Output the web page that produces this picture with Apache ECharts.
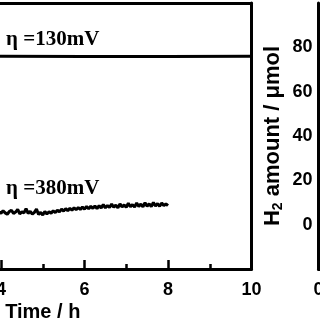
<!DOCTYPE html>
<html>
<head>
<meta charset="utf-8">
<script src="https://cdn.jsdelivr.net/npm/echarts@6/dist/echarts.min.js"></script>
<style>html,body{margin:0;padding:0;background:#fff;}#c{width:320px;height:320px;}</style>
</head>
<body>
<div id="c"></div>
<script>
// Left panel: chronoamperometry-like traces
const xTicks = [0, 2, 4, 6, 8, 10];
const time130 = [0, 2, 4, 6, 8, 10];
const val130 = [8.0, 8.0, 8.0, 7.99, 7.99, 8.0];
const time380 = [3.80,3.85,3.90,3.95,4.00,4.05,4.10,4.15,4.20,4.25,4.30,4.35,4.40,4.45,4.50,4.55,4.60,4.65,4.70,4.75,4.80,4.85,4.90,4.95,5.00,5.05,5.10,5.15,5.20,5.25,5.30,5.35,5.40,5.45,5.50,5.55,5.60,5.65,5.70,5.75,5.80,5.85,5.90,5.95,6.00,6.05,6.10,6.15,6.20,6.25,6.30,6.35,6.40,6.45,6.50,6.55,6.60,6.65,6.70,6.75,6.80,6.85,6.90,6.95,7.00,7.05,7.10,7.15,7.20,7.25,7.30,7.35,7.40,7.45,7.50,7.55,7.60,7.65,7.70,7.75,7.80,7.85,7.90,7.95,8.00];
const val380 = [2.12,2.18,2.08,2.15,2.10,2.19,2.11,2.06,2.16,2.21,2.09,2.14,2.24,2.07,2.15,2.11,2.27,2.09,2.17,2.06,2.13,2.25,2.05,2.13,2.03,2.16,2.07,2.15,2.10,2.19,2.12,2.21,2.15,2.25,2.18,2.27,2.19,2.28,2.21,2.30,2.23,2.31,2.24,2.33,2.25,2.35,2.26,2.36,2.28,2.37,2.27,2.38,2.29,2.42,2.30,2.39,2.31,2.44,2.32,2.40,2.30,2.45,2.33,2.41,2.32,2.47,2.34,2.42,2.33,2.48,2.35,2.44,2.34,2.49,2.36,2.45,2.35,2.50,2.37,2.46,2.36,2.48,2.38,2.45,2.38];
const label130 = 'η =130mV';
const label380 = 'η =380mV';
// Right panel: H2 amount axis
const h2Min = -20, h2Max = 100, h2Step = 20;

const chart = echarts.init(document.getElementById('c'), null, {renderer: 'canvas'});
const tickFont = {fontFamily: 'Liberation Sans, Arial, sans-serif', fontWeight: 'bold', fontSize: 18, color: '#000'};
const lineStyle = {color: '#000', width: 3};

chart.setOption({
  animation: false,
  backgroundColor: '#fff',
  grid: [
    {left: -166, top: 3, width: 417.5, height: 266, containLabel: false, outerBoundsMode: 'none'},
    {left: 318.5, top: 3, width: 400, height: 266, containLabel: false, outerBoundsMode: 'none'}
  ],
  xAxis: [
    {
      gridIndex: 0, type: 'value', min: 0, max: 10, interval: 2, position: 'bottom',
      axisLine: {show: true, lineStyle: lineStyle},
      axisTick: {show: true, inside: true, length: 9, lineStyle: {color: '#000', width: 2.5}},
      minorTick: {show: true, splitNumber: 2, length: 5, lineStyle: {color: '#000', width: 2.5}},
      axisLabel: Object.assign({margin: 12}, tickFont),
      splitLine: {show: false},
      name: 'Time / h', nameLocation: 'middle', nameGap: 33, nameMoveOverlap: false,
      nameTextStyle: {fontFamily: 'Liberation Sans, Arial, sans-serif', fontWeight: 'bold', fontSize: 20, color: '#000'}
    },
    {
      gridIndex: 0, type: 'value', min: 0, max: 10, position: 'top',
      axisLine: {show: true, onZero: false, lineStyle: lineStyle},
      axisTick: {show: false}, axisLabel: {show: false}, splitLine: {show: false}
    },
    {
      gridIndex: 1, type: 'value', min: 0, max: 10, interval: 2, position: 'bottom',
      axisLine: {show: true, onZero: false, lineStyle: lineStyle},
      axisTick: {show: false},
      axisLabel: Object.assign({margin: 12}, tickFont),
      splitLine: {show: false}
    }
  ],
  yAxis: [
    {
      gridIndex: 0, type: 'value', min: 0, max: 10, position: 'left',
      axisLine: {show: true, lineStyle: lineStyle},
      axisTick: {show: false}, axisLabel: {show: false}, splitLine: {show: false}
    },
    {
      gridIndex: 0, type: 'value', min: 0, max: 10, position: 'right',
      axisLine: {show: true, onZero: false, lineStyle: lineStyle},
      axisTick: {show: false}, axisLabel: {show: false}, splitLine: {show: false}
    },
    {
      gridIndex: 1, type: 'value', min: h2Min, max: h2Max, interval: h2Step, position: 'left',
      axisLine: {show: true, onZero: false, lineStyle: lineStyle},
      axisTick: {show: false},
      axisLabel: Object.assign({margin: 6, showMinLabel: false, showMaxLabel: false}, tickFont),
      splitLine: {show: false},
      name: '{a|H}{s|2}{a| amount / μmol}', nameLocation: 'middle', nameGap: 33, nameRotate: 90, nameMoveOverlap: false,
      nameTextStyle: {
        rich: {
          a: {fontFamily: 'Liberation Sans, Arial, sans-serif', fontWeight: 'bold', fontSize: 22, color: '#000', lineHeight: 26, verticalAlign: 'middle'},
          s: {fontFamily: 'Liberation Sans, Arial, sans-serif', fontWeight: 'bold', fontSize: 14, color: '#000', lineHeight: 26, verticalAlign: 'bottom', padding: [10, 0, 0, 0]}
        }
      }
    }
  ],
  series: [
    {
      type: 'line', xAxisIndex: 0, yAxisIndex: 0, showSymbol: false, symbol: 'none',
      data: time130.map((t, i) => [t, val130[i]]),
      lineStyle: {color: '#000', width: 3}
    },
    {
      type: 'line', xAxisIndex: 0, yAxisIndex: 0, showSymbol: false, symbol: 'none',
      data: time380.map((t, i) => [t, val380[i]]),
      lineStyle: {color: '#000', width: 3}
    }
  ],
  graphic: [
    {type: 'text', left: 6, top: 29, style: {text: label130, font: 'bold 21px "Liberation Serif", "Times New Roman", serif', fill: '#000'}},
    {type: 'text', left: 6, top: 178, style: {text: label380, font: 'bold 21px "Liberation Serif", "Times New Roman", serif', fill: '#000'}}
  ]
});
</script>
</body>
</html>
